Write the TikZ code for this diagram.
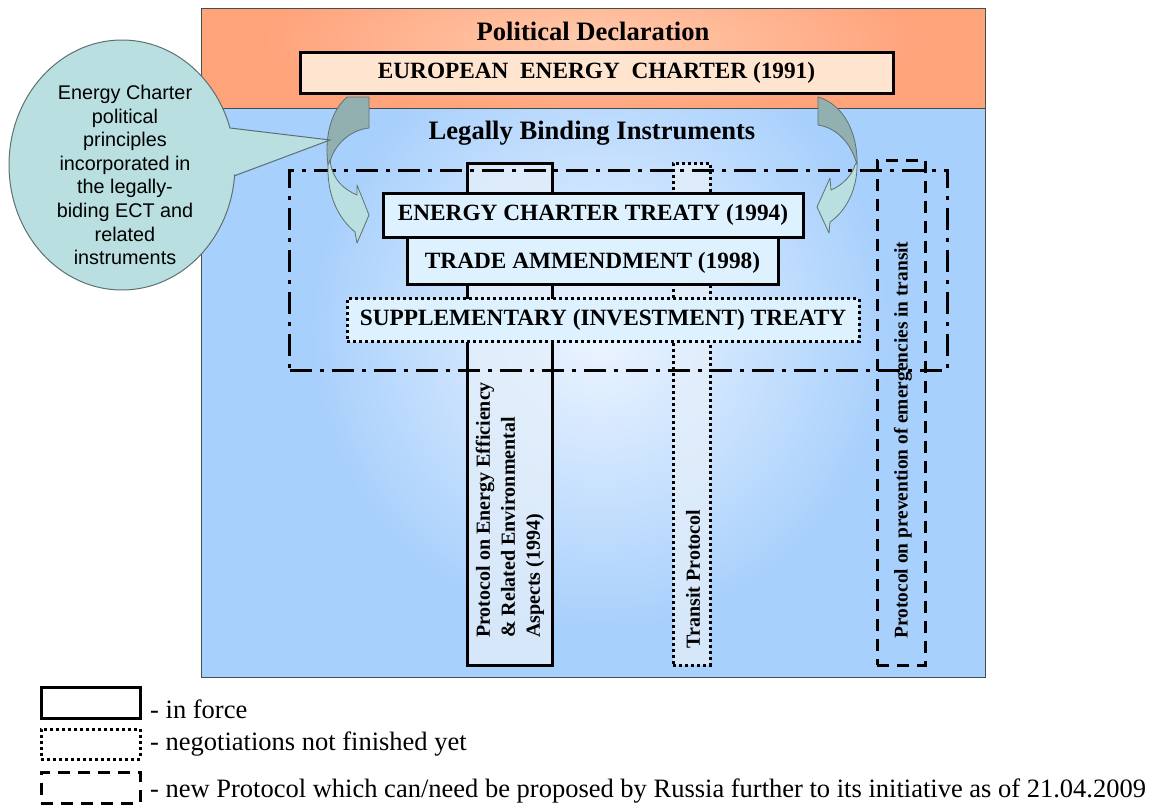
\documentclass[tikz,border=0pt]{standalone}
\usepackage{fontspec}
\setmainfont{Liberation Serif}
\newfontfamily\arialfont{Liberation Sans}
\usetikzlibrary{shapes.geometric}

\definecolor{orangebg}{HTML}{FFA37B}
\definecolor{orangelit}{HTML}{FFCBAE}
\definecolor{charterfill}{HTML}{FFE5CF}
\definecolor{bluebg}{HTML}{A8D0FC}
\definecolor{bluelit}{HTML}{EEF5FF}
\definecolor{boxfill}{HTML}{DDF1FF}
\definecolor{colfill}{HTML}{E6F0FA}
\definecolor{bubblefill}{HTML}{B9DFE1}
\definecolor{bubbleline}{HTML}{5F7070}
\definecolor{arrowdark}{HTML}{93B0B1}

\tikzset{
  inforce/.style={draw=black, line width=3pt},
  pending/.style={draw=black, line width=3pt, dash pattern=on 3pt off 3pt},
  proposed/.style={draw=black, line width=3pt, dash pattern=on 12pt off 8pt},
  ectframe/.style={draw=black, line width=3pt, dash pattern=on 22pt off 8pt on 4pt off 8pt},
  boxlabel/.style={font=\fontsize{23.3}{27}\selectfont\bfseries, inner sep=0pt},
  headlabel/.style={font=\fontsize{26.6}{30}\selectfont\bfseries, inner sep=0pt},
  collabel/.style={font=\fontsize{20}{25}\selectfont\bfseries, inner sep=0pt, rotate=90},
  legendlabel/.style={font=\fontsize{26.5}{30}\selectfont, inner sep=0pt},
  arrowpart/.style={draw=bubbleline, line width=0.8pt, line join=round},
}

\begin{document}
\begin{tikzpicture}[x=1pt, y=-1pt]
\useasboundingbox (0,0) rectangle (1160,806);

% backgrounds
\fill[orangebg] (201,8) rectangle (985,108);
\begin{scope}
  \clip (201,8) rectangle (985,108);
  \shade[inner color=orangelit, outer color=orangebg] (593,40) ellipse (330 and 75);
\end{scope}
\fill[bluebg] (201,108) rectangle (985,677);
\begin{scope}
  \clip (201,108) rectangle (985,677);
  \shade[inner color=bluelit, outer color=bluebg] (600,330) ellipse (290 and 300);
\end{scope}
\draw[bubbleline!70!black, line width=1pt] (201,8) rectangle (985,677);
\draw[bubbleline!70!black, line width=1pt] (201,108) -- (985,108);

% protocol columns
\node[inforce, fill=colfill, fill opacity=0.75, minimum width=85pt, minimum height=502pt] (eecol) at (509.5,414) {};
\node[pending, fill=colfill, fill opacity=0.75, minimum width=37pt, minimum height=502pt] (transitcol) at (691.5,414) {};
\node[proposed, minimum width=48pt, minimum height=505pt] (emergcol) at (901,412.5) {};

% legally binding frame
\node[ectframe, minimum width=658pt, minimum height=200pt] (ectframe) at (618.5,270) {};

% treaty boxes
\node[inforce, fill=boxfill, minimum width=371pt, minimum height=48pt] (trade) at (592.5,260) {};
\node[inforce, fill=boxfill, minimum width=420pt, minimum height=44pt] (ect) at (593,215) {};
\node[pending, fill=boxfill, minimum width=512pt, minimum height=43pt] (supp) at (603,320) {};
\node[inforce, fill=charterfill, minimum width=593pt, minimum height=41pt] (charter) at (596.5,72.5) {};

\node[boxlabel] (ecttext) at (ect.center) {ENERGY CHARTER TREATY (1994)};
\node[boxlabel] (tradetext) at ([yshift=-3pt]trade.center) {TRADE AMMENDMENT (1998)};
\node[boxlabel] (supptext) at (supp.center) {SUPPLEMENTARY (INVESTMENT) TREATY};
\node[boxlabel] (chartertext) at (charter.center) {EUROPEAN\ \ ENERGY\ \ CHARTER (1991)};

\node[headlabel] (political) at (593,31) {Political Declaration};
\node[headlabel] (binding) at (592,133) {Legally Binding Instruments};

% column labels
\node[collabel, anchor=west, align=left] (eetext) at (510,638)
  {Protocol on Energy Efficiency\\ \& Related Environmental\\ Aspects (1994)};
\node[collabel] (transittext) at (693,579) {Transit Protocol};
\node[collabel, font=\fontsize{19.4}{24}\selectfont\bfseries] (emergtext) at (903,440) {Protocol on prevention of emergencies in transit};

% curved arrows
\filldraw[arrowpart, fill=arrowdark] (347,97) -- (369,97) -- (369,128)
  .. controls (350,130) and (334,145) .. (330,162) -- (328,165)
  .. controls (324,135) and (332,110) .. (347,97) -- cycle;
\filldraw[arrowpart, fill=bubblefill] (330,160) .. controls (332,180) and (345,190) .. (357,195)
  -- (357,185) -- (369,215) -- (357,243) -- (355,232)
  .. controls (338,218) and (327,195) .. (328,165) -- cycle;
\filldraw[arrowpart, fill=arrowdark] (818,97) -- (818,125)
  .. controls (838,128) and (852,145) .. (857,165)
  .. controls (858,135) and (845,105) .. (818,97) -- cycle;
\filldraw[arrowpart, fill=bubblefill] (857,162) .. controls (858,190) and (845,212) .. (830,222)
  -- (829,233) -- (817,207) -- (830,178) -- (831,190)
  .. controls (843,185) and (852,175) .. (855,165) -- cycle;

% speech bubble
\coordinate (bubbletip) at (330,140);
\filldraw[draw=bubbleline, line width=1pt, fill=bubblefill] (122,165) ellipse (113 and 125);
\fill[bubblefill] (226,128) -- (bubbletip) -- (230,176) -- cycle;
\draw[bubbleline, line width=1pt] (230,128) -- (bubbletip) -- (234,176);
\node[font=\arialfont\fontsize{19.8}{23.6}\selectfont, align=center, inner sep=0pt] (principles) at (125,175)
  {Energy Charter\\ political\\ principles\\ incorporated in\\ the legally-\\ biding ECT and\\ related\\ instruments};

% legend
\node[inforce, minimum width=99pt, minimum height=31pt] (keyforce) at (90.5,702.5) {};
\node[pending, minimum width=99pt, minimum height=30pt] (keypending) at (90.5,744) {};
\node[proposed, minimum width=99pt, minimum height=31pt] (keyproposed) at (90.5,787.5) {};
\node[legendlabel, anchor=base west] (keyforcetext) at (150,718) {- in force};
\node[legendlabel, anchor=base west] (keypendingtext) at (150,750) {- negotiations not finished yet};
\node[legendlabel, anchor=base west] (keyproposedtext) at (150,797) {- new Protocol which can/need be proposed by Russia further to its initiative as of 21.04.2009};
\end{tikzpicture}
\end{document}
